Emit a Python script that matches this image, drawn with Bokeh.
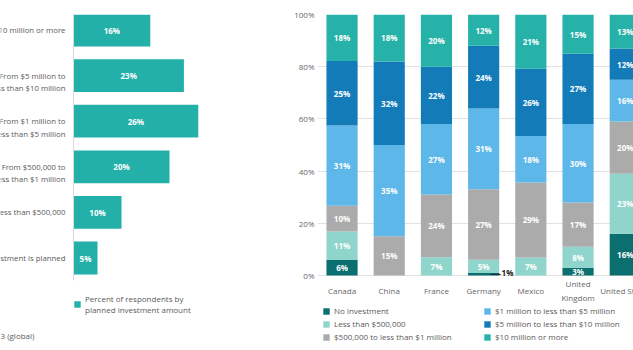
from bokeh.plotting import figure
from bokeh.layouts import row
from bokeh.models import Range1d, ColumnDataSource, FixedTicker, Legend, LegendItem
from bokeh.embed import file_html
from bokeh.resources import INLINE
from bokeh.core.properties import value

# ---------------- data ----------------
amount_labels = ["$10 million or more",
                 "From $5 million to\nless than $10 million",
                 "From $1 million to\nless than $5 million",
                 "From $500,000 to\nless than $1 million",
                 "Less than $500,000",
                 "No investment is planned"]
amount_pct = [16, 23, 26, 20, 10, 5]
left_legend_label = "Percent of respondents by\nplanned investment amount"
source_note = "3 (global)"

countries = ["Canada", "China", "France", "Germany", "Mexico", "United\nKingdom", "United States"]
series_names = ["No investment", "Less than $500,000", "$500,000 to less than $1 million",
                "$1 million to less than $5 million", "$5 million to less than $10 million",
                "$10 million or more"]
no_investment = [6, 0, 0, 1, 0, 3, 16]
lt_500k = [11, 0, 7, 5, 7, 8, 23]
k500_to_1m = [10, 15, 24, 27, 29, 17, 20]
m1_to_5 = [31, 35, 27, 31, 18, 30, 16]
m5_to_10 = [25, 32, 22, 24, 26, 27, 12]
m10_plus = [18, 18, 20, 12, 21, 15, 13]
y_ticks = [0, 20, 40, 60, 80, 100]

series_values = [no_investment, lt_500k, k500_to_1m, m1_to_5, m5_to_10, m10_plus]
series_colors = ["#0b6e6f", "#8fd5cc", "#ababab", "#5db7e8", "#127bb8", "#26b2a8"]
bar_color_left = "#22b0a9"
FONT = "Open Sans"
TXT = "#5a5a5a"
FS = "8px"
FS_LEFT = "7.8px"

# ---------------- left chart ----------------
px_per_pct = 4.8
left_w, left_h = 277, 350
frame_shift = 14               # the left frame is rendered 14px lower in the row
x0 = -73 / px_per_pct
row_px = 45.6
y_top = (29.5 - frame_shift) / row_px          # rows are placed at y = -index
left = figure(title=None, frame_width=left_w, frame_height=left_h, output_backend="svg",
              toolbar_location=None,
              x_range=Range1d(x0, x0 + left_w / px_per_pct),
              y_range=Range1d(y_top - left_h / row_px, y_top),
              min_border_left=0, min_border_right=0, min_border_top=0, min_border_bottom=0)
left.axis.visible = False
left.grid.visible = False
left.outline_line_color = None

neg_idx = [-i for i in range(len(amount_pct))]
lsrc = ColumnDataSource(dict(y=neg_idx, v=amount_pct, mid=[v / 2 for v in amount_pct],
                             lab=[f"{v}%" for v in amount_pct]))
lbars = left.hbar(y="y", left=0, right="v", height=0.72, source=lsrc,
                  fill_color=bar_color_left, line_color=None)
left.segment(x0=[0], x1=[0], y0=[y_top], y1=[y_top - (280 - frame_shift) / row_px],
             line_color="#d9d9d9", line_width=1)
left.text(x="mid", y="y", text="lab", source=lsrc, text_align="center", text_baseline="middle",
          text_color="white", text_font=value(FONT), text_font_style="bold",
          text_font_size="8px")

single = [i for i, s in enumerate(amount_labels) if "\n" not in s]
double = [i for i, s in enumerate(amount_labels) if "\n" in s]
lab_x = -8 / px_per_pct
left.text(x=[lab_x] * len(single), y=[-i for i in single], text=[amount_labels[i] for i in single],
          text_align="right", text_baseline="middle", text_color=TXT,
          text_font=value(FONT), text_font_size=FS_LEFT)
left.text(x=[lab_x] * len(double), y=[-i + 0.11 for i in double],
          text=[amount_labels[i] for i in double],
          text_align="right", text_baseline="top", text_color=TXT,
          text_line_height=1.25, text_font=value(FONT), text_font_size=FS_LEFT)
left.text(x=[x0], y=[y_top - (335 - frame_shift) / row_px], text=[source_note], text_align="left",
          text_baseline="middle", text_color=TXT, text_font=value(FONT), text_font_size=FS)

lleg = Legend(items=[LegendItem(label=left_legend_label, renderers=[lbars])],
              location=(73, 35), padding=0, margin=0, border_line_color=None,
              background_fill_alpha=0, glyph_width=8, glyph_height=8, label_standoff=4,
              label_text_font=FONT, label_text_font_size=FS, label_text_color=TXT)
left.add_layout(lleg)

# ---------------- right chart ----------------
cat_px = 47.2
frame_w = 316
pct_px = 2.61                 # pixels per percentage point
xs = -0.52
right = figure(title=None, frame_width=frame_w, frame_height=336, output_backend="svg",
               toolbar_location=None,
               x_range=Range1d(xs, xs + frame_w / cat_px),
               y_range=Range1d(-75 / pct_px, 100),
               min_border_left=40, min_border_right=0, min_border_top=14, min_border_bottom=0)
right.outline_line_color = None
right.xgrid.visible = False
right.xaxis.visible = False
right.ygrid.ticker = FixedTicker(ticks=y_ticks)
right.ygrid.grid_line_color = "#e2e2e2"

right.yaxis.ticker = FixedTicker(ticks=y_ticks)
right.yaxis.major_label_overrides = {t: f"{t}%" for t in y_ticks}
right.yaxis.axis_line_color = None
right.yaxis.major_tick_line_color = None
right.yaxis.minor_tick_line_color = None
right.yaxis.major_tick_out = 0
right.yaxis.major_tick_in = 0
right.yaxis.minor_tick_out = 0
right.yaxis.major_label_text_font = FONT
right.yaxis.major_label_text_font_size = FS
right.yaxis.major_label_text_color = "#666666"
right.yaxis.major_label_standoff = 3

totals = [sum(s[i] for s in series_values) for i in range(len(countries))]
bottoms = [0.0] * len(countries)
renderers = []
lab_x, lab_y, lab_t = [], [], []
for vals, col in zip(series_values, series_colors):
    share = [v / t * 100 for v, t in zip(vals, totals)]
    tops = [b + s for b, s in zip(bottoms, share)]
    src = ColumnDataSource(dict(x=list(range(len(countries))), bottom=bottoms, top=tops))
    r = right.vbar(x="x", bottom="bottom", top="top", width=0.66, source=src,
                   fill_color=col, line_color=None)
    renderers.append(r)
    for i, v in enumerate(vals):
        if v >= 3:
            lab_x.append(i)
            lab_y.append((bottoms[i] + tops[i]) / 2)
            lab_t.append(f"{v}%")
    bottoms = tops

right.text(x=lab_x, y=lab_y, text=lab_t, text_align="center", text_baseline="middle",
           text_color="white", text_font=value(FONT), text_font_style="bold", text_font_size="8px")

g = countries.index("Germany")
right.segment(x0=[g + 0.15], x1=[g + 0.36], y0=[0.4], y1=[0.4], line_color="#222222", line_width=1)
right.text(x=[g + 0.38], y=[1.3], text=[f"{no_investment[g]}%"], text_align="left",
           text_baseline="middle", text_color="#222222", text_font=value(FONT),
           text_font_style="bold", text_font_size="8px")

# category labels under the bars
right.text(x=list(range(len(countries))), y=[-15 / pct_px] * len(countries), text=countries,
           text_align="center", text_baseline="middle", text_color="#666666",
           text_line_height=1.2, text_font=value(FONT), text_font_size=FS)

leg_kw = dict(padding=0, margin=0, spacing=2, border_line_color=None, background_fill_alpha=0,
              glyph_width=8, glyph_height=8, label_standoff=4, label_height=9,
              label_text_font=FONT, label_text_font_size=FS, label_text_color=TXT)
leg_a = Legend(items=[LegendItem(label=n, renderers=[r])
                      for n, r in zip(series_names[:3], renderers[:3])],
               location=(5, 8), **leg_kw)
leg_b = Legend(items=[LegendItem(label=n, renderers=[r])
                      for n, r in zip(series_names[3:], renderers[3:])],
               location=(166, 8), **leg_kw)
right.add_layout(leg_a)
right.add_layout(leg_b)

layout = row(left, right)
open("out.html", "w").write(file_html(layout, INLINE))
